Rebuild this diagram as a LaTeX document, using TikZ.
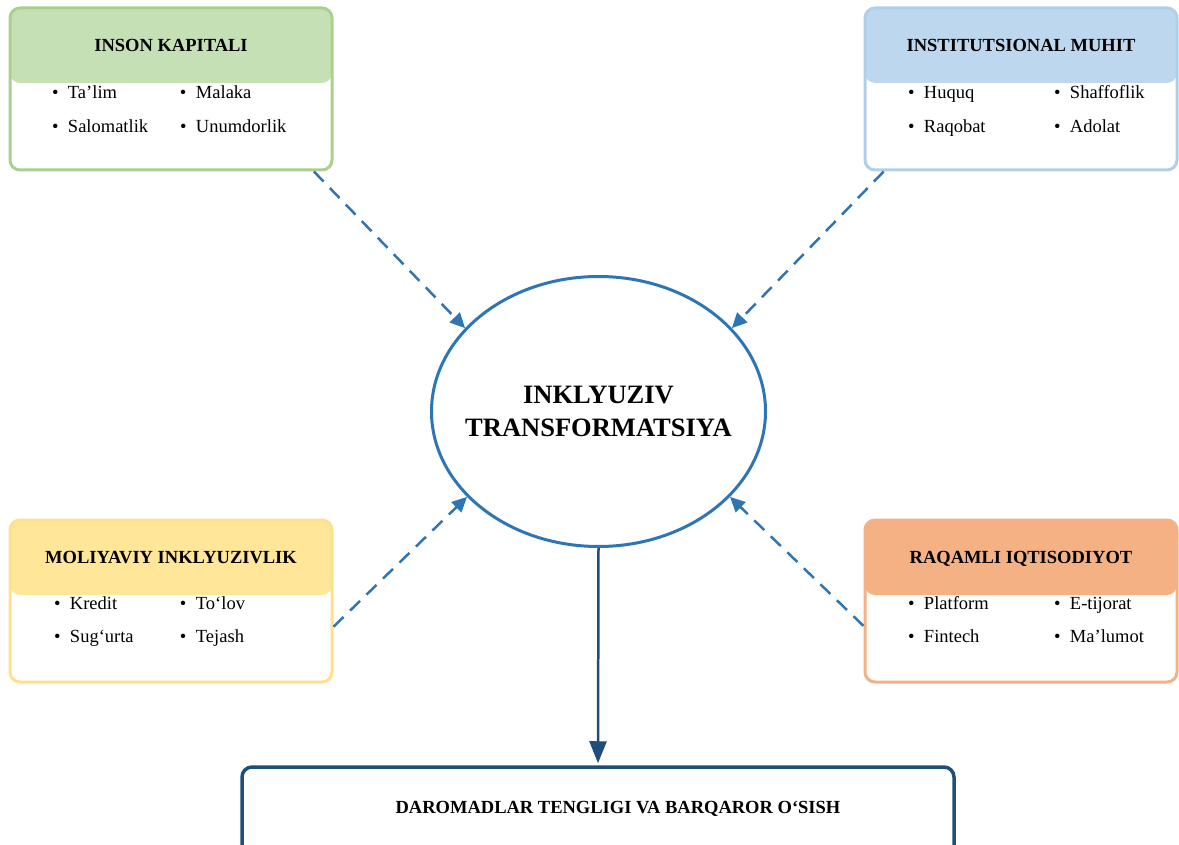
\documentclass[tikz,border=0pt]{standalone}
\usepackage{fontspec}
\setmainfont{Liberation Serif}
\usepackage{array}
\usetikzlibrary{arrows.meta,shapes.geometric}
\definecolor{insonFill}{HTML}{C5E0B4}
\definecolor{insonLine}{HTML}{A9D18E}
\definecolor{instFill}{HTML}{BDD7EE}
\definecolor{instLine}{HTML}{B0CFEB}
\definecolor{molFill}{HTML}{FFE699}
\definecolor{molLine}{HTML}{FFE08C}
\definecolor{raqFill}{HTML}{F4B183}
\definecolor{raqLine}{HTML}{F4B183}
\definecolor{ellBlue}{HTML}{2E75B6}
\definecolor{darkBlue}{HTML}{1F4E79}
\newcommand{\itm}[1]{\textbullet\hspace{9.5pt}#1}

\begin{document}
\begin{tikzpicture}[x=1pt,y=-1pt,
		box/.style={rounded corners=10pt,line width=3pt,minimum height=162pt,inner sep=0pt},
		head/.style={rounded corners=10pt,minimum height=75pt,inner sep=0pt,text height=12.5pt,text depth=0pt,font=\fontsize{18.5}{22}\selectfont\bfseries},
		list/.style={anchor=base west,inner sep=0pt,font=\fontsize{18.5}{33.5}\selectfont},
		feed/.style={-{Triangle[length=15pt,width=14pt]},dash pattern=on 14pt off 9pt,line width=2.5pt,color=ellBlue}]
		\useasboundingbox (0,0) rectangle (1179,845);
		\clip (0,0) rectangle (1179,845);
		%
		\node[head,fill=insonFill,minimum width=322pt] (insonhead) at (171,45.5) {INSON KAPITALI};
		\node[box,draw=insonLine,minimum width=322pt] (inson) at (171,89) {};
		\node[list] (insonlist) at (51.8,99) {\begin{tabular}[t]{@{}p{128pt}@{}l@{}}
			\itm{Ta’lim} & \itm{Malaka}\\
			\itm{Salomatlik} & \itm{Unumdorlik}
		\end{tabular}};
		%
		\node[head,fill=instFill,minimum width=312pt] (insthead) at (1021,45.5) {INSTITUTSIONAL MUHIT};
		\node[box,draw=instLine,minimum width=312pt] (inst) at (1021,89) {};
		\node[list] (instlist) at (907.8,99) {\begin{tabular}[t]{@{}p{146pt}@{}l@{}}
			\itm{Huquq} & \itm{Shaffoflik}\\
			\itm{Raqobat} & \itm{Adolat}
		\end{tabular}};
		%
		\node[head,fill=molFill,minimum width=322pt] (molhead) at (171,557.5) {MOLIYAVIY INKLYUZIVLIK};
		\node[box,draw=molLine,minimum width=322pt] (mol) at (171,601) {};
		\node[list] (mollist) at (53.8,609) {\begin{tabular}[t]{@{}p{126pt}@{}l@{}}
			\itm{Kredit} & \itm{To‘lov}\\
			\itm{Sug‘urta} & \itm{Tejash}
		\end{tabular}};
		%
		\node[head,fill=raqFill,minimum width=312pt] (raqhead) at (1021,557.5) {RAQAMLI IQTISODIYOT};
		\node[box,draw=raqLine,minimum width=312pt] (raq) at (1021,601) {};
		\node[list] (raqlist) at (907.8,609) {\begin{tabular}[t]{@{}p{146pt}@{}l@{}}
			\itm{Platform} & \itm{E-tijorat}\\
			\itm{Fintech} & \itm{Ma’lumot}
		\end{tabular}};
		%
		\node[ellipse,draw=ellBlue,line width=3pt,minimum width=334pt,minimum height=270pt,inner sep=0pt,
			label={[align=center,inner sep=0pt,font=\fontsize{26.5}{33}\selectfont\bfseries]center:INKLYUZIV\\TRANSFORMATSIYA}] (markaz) at (598.5,411.5) {};
		%
		\node[box,draw=darkBlue,line width=3.5pt,minimum width=712pt,minimum height=90pt] (natija) at (598,812) {};
		\node[anchor=base,inner sep=0pt,font=\fontsize{18.5}{22}\selectfont\bfseries] (natijatxt) at (618,813) {DAROMADLAR TENGLIGI VA BARQAROR O‘SISH};
		%
		\path[feed]
		(inson.-30) edge (markaz.148)
		(inst.211) edge (markaz.32)
		(mol.-9) edge (markaz.213)
		(raq.189) edge (markaz.-33);
		\draw[-{Triangle[length=22pt,width=17pt]},line width=2.5pt,darkBlue,shorten >=2pt] (markaz.south) -- (natija.north);
\end{tikzpicture}
\end{document}
